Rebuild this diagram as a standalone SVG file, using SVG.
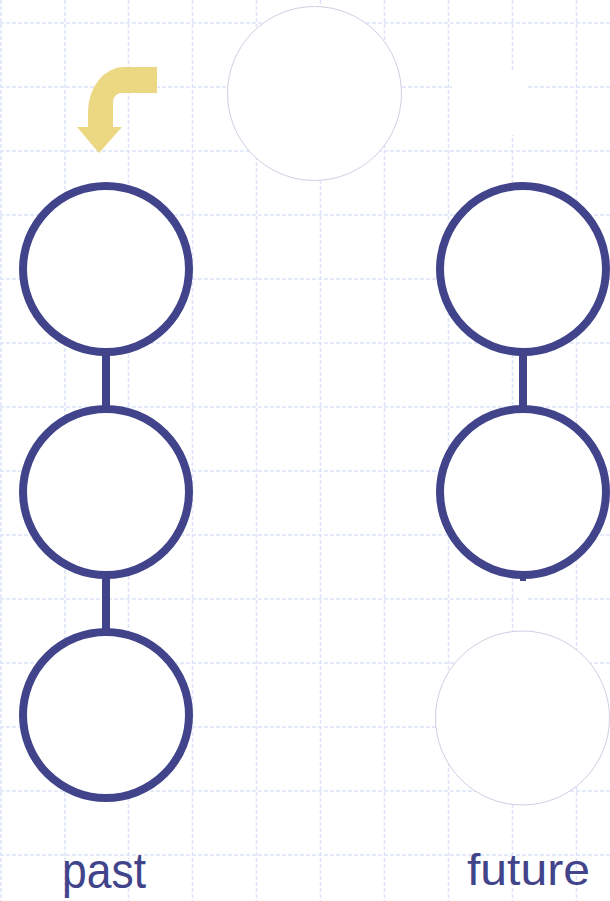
<svg xmlns="http://www.w3.org/2000/svg" width="610" height="901" viewBox="0 0 610 901">
<style>
.grid line{stroke:#dde4fa;stroke-width:1.5;stroke-dasharray:4 2}
.node{fill:#fff;stroke:#41448a;stroke-width:8}
.ghost{fill:#fff;stroke:#cfcfe3;stroke-width:1}
.conn{stroke:#41448a;stroke-width:8}
.label{font-family:"Liberation Sans",Arial,sans-serif;fill:#41448a}
</style>
<rect width="610" height="901" fill="#fff"/>
<g class="grid">
<line x1="1" y1="0" x2="1" y2="901"/><line x1="65" y1="0" x2="65" y2="901"/><line x1="128.5" y1="0" x2="128.5" y2="901"/><line x1="192.5" y1="0" x2="192.5" y2="901"/><line x1="256.5" y1="0" x2="256.5" y2="901"/><line x1="320.5" y1="0" x2="320.5" y2="901"/><line x1="384.5" y1="0" x2="384.5" y2="901"/><line x1="448.5" y1="0" x2="448.5" y2="901"/><line x1="512.5" y1="0" x2="512.5" y2="901"/><line x1="576.5" y1="0" x2="576.5" y2="901"/>
<line x1="0" y1="23" x2="610" y2="23"/><line x1="0" y1="87" x2="610" y2="87"/><line x1="0" y1="151" x2="610" y2="151"/><line x1="0" y1="215" x2="610" y2="215"/><line x1="0" y1="279" x2="610" y2="279"/><line x1="0" y1="343" x2="610" y2="343"/><line x1="0" y1="407" x2="610" y2="407"/><line x1="0" y1="471" x2="610" y2="471"/><line x1="0" y1="535" x2="610" y2="535"/><line x1="0" y1="599" x2="610" y2="599"/><line x1="0" y1="663" x2="610" y2="663"/><line x1="0" y1="727" x2="610" y2="727"/><line x1="0" y1="791" x2="610" y2="791"/><line x1="0" y1="855" x2="610" y2="855"/>
</g>
<rect x="452" y="72" width="74" height="63" fill="#fff"/>
<path d="M157,67 L124,67 A36,45 0 0 0 88,112 L88,127 L77,127 L99,153 L122,127 L113,127 L113,102 A8,9 0 0 1 121,93 L157,93 Z" fill="#ecd782"/>
<g id="connectors">
<line class="conn" x1="106" y1="350" x2="106" y2="411"/>
<line class="conn" x1="106" y1="573" x2="106" y2="634"/>
<line class="conn" x1="523" y1="350" x2="523" y2="411"/>
<line x1="523" y1="578" x2="523" y2="632" stroke="#fff" stroke-width="8"/>
</g>
<g id="top"><circle class="ghost" cx="314.5" cy="93.5" r="87"/></g>
<g id="past1"><circle class="node" cx="106" cy="269" r="83"/></g>
<g id="past2"><circle class="node" cx="106" cy="492" r="83"/></g>
<g id="past3"><circle class="node" cx="106" cy="715" r="83"/></g>
<g id="future1"><circle class="node" cx="523" cy="269" r="83"/></g>
<g id="future2"><circle class="node" cx="523" cy="492" r="83"/></g>
<g id="future3"><circle class="ghost" cx="522.5" cy="718" r="87"/></g>
<rect x="520" y="573" width="6" height="8" fill="#41448a"/>
<g id="labels">
<text class="label" x="62" y="888" font-size="50" textLength="84" lengthAdjust="spacingAndGlyphs">past</text>
<text class="label" x="467" y="885" font-size="44" textLength="123" lengthAdjust="spacingAndGlyphs">future</text>
</g>
</svg>
